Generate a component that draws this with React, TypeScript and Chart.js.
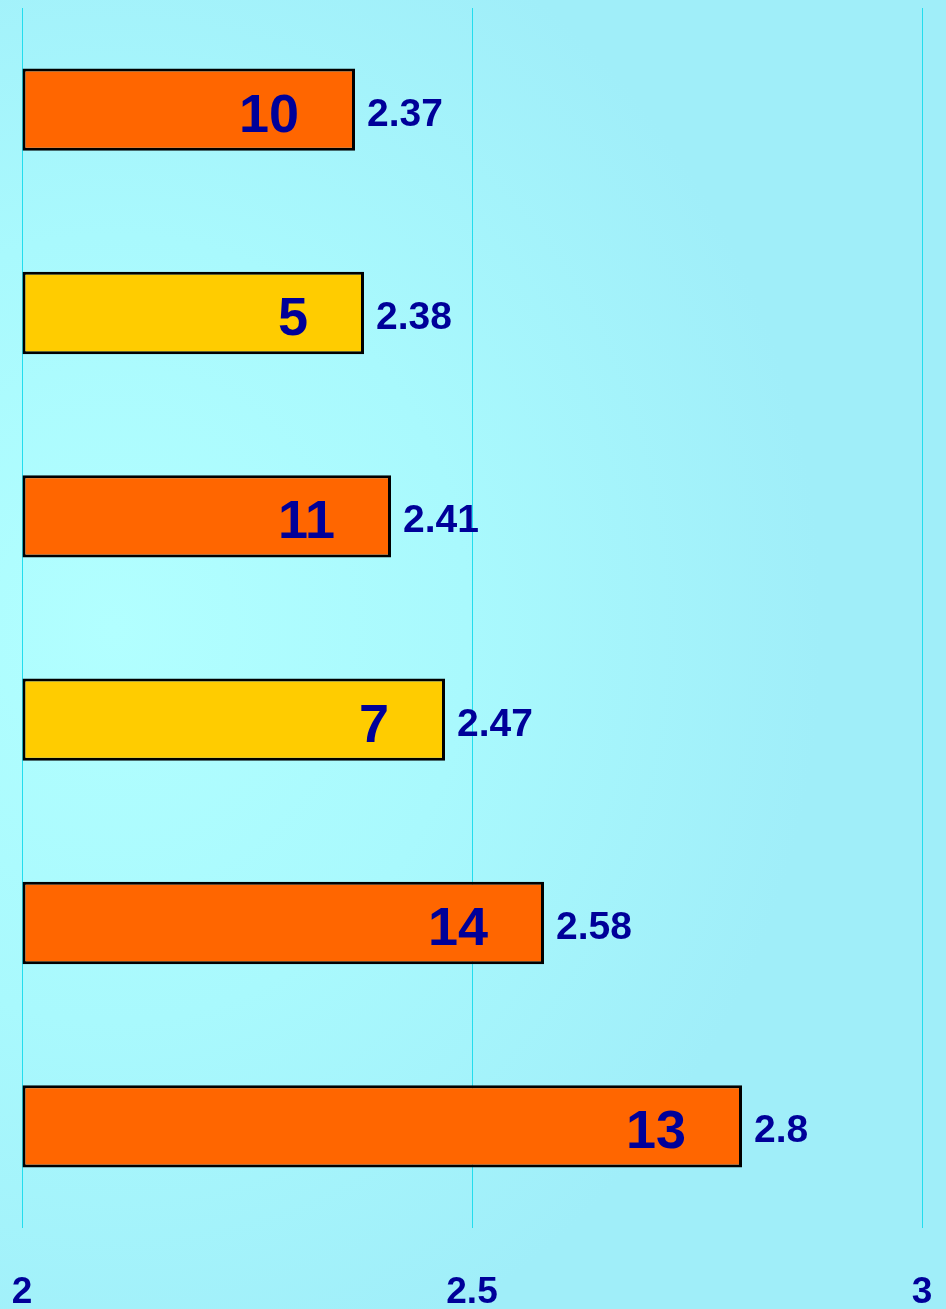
import React, { useEffect, useRef } from "react";
import { Chart, registerables } from "chart.js";

Chart.register(...registerables);

const categories = ["10", "5", "11", "7", "14", "13"];
const values = [2.37, 2.38, 2.41, 2.47, 2.58, 2.8];
const barColors = ["#FF6600", "#FFCC00", "#FF6600", "#FFCC00", "#FF6600", "#FF6600"];
const axisMin = 2;
const axisMax = 3;
const tickValues = [2, 2.5, 3];
const tickLabels = ["2", "2.5", "3"];

const TEXT_COLOR = "#000099";
const FONT = "'Liberation Sans', Arial, Helvetica, sans-serif";

const labelPlugin = {
  id: "customLabels",
  afterDatasetsDraw(chart: any) {
    const ctx = chart.ctx;
    const meta = chart.getDatasetMeta(0);
    ctx.save();
    ctx.fillStyle = TEXT_COLOR;
    ctx.textBaseline = "alphabetic";
    meta.data.forEach((bar: any, i: number) => {
      // category label inside the bar near its end
      ctx.font = `bold 54px ${FONT}`;
      ctx.textAlign = "right";
      ctx.fillText(categories[i], bar.x - 56, bar.y + 22);
      // value label after the bar
      ctx.font = `bold 39px ${FONT}`;
      ctx.textAlign = "left";
      ctx.fillText(String(values[i]), bar.x + 12, bar.y + 16);
    });
    // x-axis tick labels
    const xs = chart.scales.x;
    ctx.font = `bold 37px ${FONT}`;
    ctx.textAlign = "center";
    tickValues.forEach((v, i) => {
      ctx.fillText(tickLabels[i], xs.getPixelForValue(v), 1303);
    });
    ctx.restore();
  },
};

export default function App() {
  const canvasRef = useRef<HTMLCanvasElement | null>(null);

  useEffect(() => {
    document.body.style.margin = "0";
    const canvas = canvasRef.current;
    if (!canvas) return;
    const chart = new Chart(canvas, {
      type: "bar",
      data: {
        labels: categories,
        datasets: [
          {
            data: values,
            base: axisMin,
            backgroundColor: barColors,
            borderColor: "#000000",
            borderWidth: 3,
            borderSkipped: false,
            barPercentage: 0.405,
            categoryPercentage: 1,
          } as any,
        ],
      },
      options: {
        indexAxis: "y",
        animation: false,
        responsive: false,
        maintainAspectRatio: false,
        layout: { padding: { left: 22, right: 24, top: 8, bottom: 81 } },
        plugins: {
          legend: { display: false },
          tooltip: { enabled: false },
        },
        scales: {
          x: {
            min: axisMin,
            max: axisMax,
            afterFit: (scale: any) => {
              scale.height = 0;
            },
            ticks: { display: false, stepSize: 0.5 },
            border: { display: false },
            grid: { color: "#22DDEE", lineWidth: 1, drawTicks: false },
          },
          y: {
            display: false,
            grid: { display: false },
          },
        },
      },
      plugins: [labelPlugin],
    });
    return () => chart.destroy();
  }, []);

  return (
    <div
      style={{
        width: 946,
        height: 1309,
        background:
          "radial-gradient(ellipse 75% 60% at 12% 48%, #B2FFFF 0%, #A9F9FD 50%, #A0EEF9 100%)",
      }}
    >
      <canvas ref={canvasRef} width={946} height={1309} style={{ display: "block" }} />
    </div>
  );
}
